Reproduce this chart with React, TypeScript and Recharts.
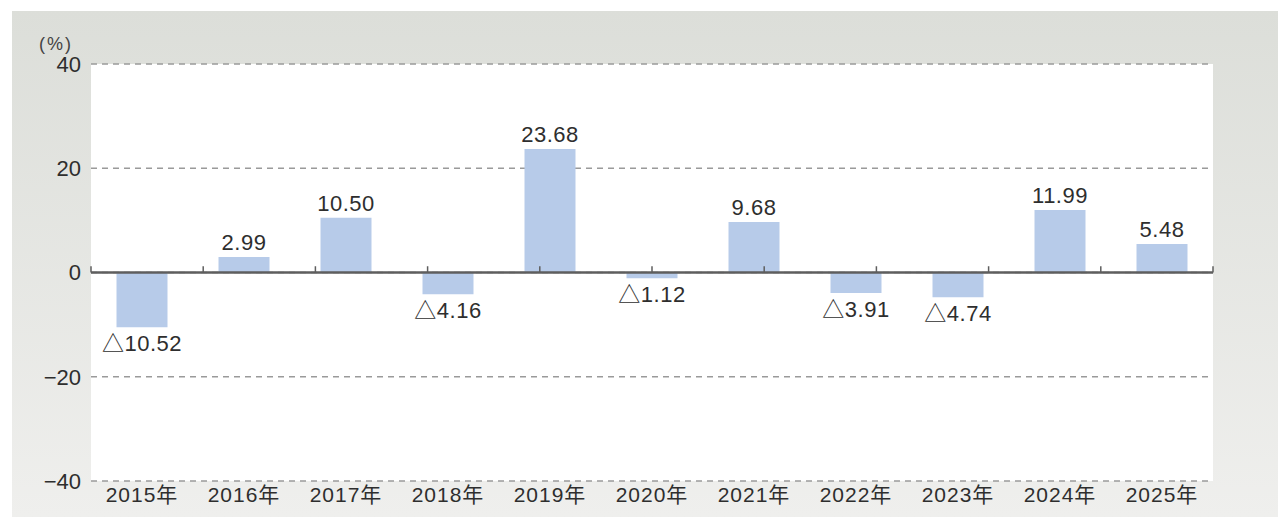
import { BarChart, Bar, XAxis, YAxis, CartesianGrid, ReferenceLine, LabelList } from "recharts";

const years = ["2015年", "2016年", "2017年", "2018年", "2019年", "2020年", "2021年", "2022年", "2023年", "2024年", "2025年"];
const growth = [-10.52, 2.99, 10.5, -4.16, 23.68, -1.12, 9.68, -3.91, -4.74, 11.99, 5.48];
const yTicks = [-40, -20, 0, 20, 40];
// category boundaries (index on a hidden numeric axis) for the small ticks on the zero line
const boundaries = [0, 1, 2, 3, 4, 5, 6, 7, 8, 9, 10, 11];

const data = years.map((year, i) => ({ year, value: growth[i] }));

const FONT = '"Liberation Sans", "Noto Sans CJK JP", sans-serif';

const renderValue = (props: any) => {
  const x = Number(props.x);
  const y = Number(props.y);
  const width = Number(props.width);
  const height = Number(props.height);
  const value = Number(props.value);
  const top = Math.min(y, y + height);
  const bottom = Math.max(y, y + height);
  const neg = value < 0;
  return (
    <text
      x={x + width / 2}
      y={neg ? bottom + 24 : top - 7}
      textAnchor="middle"
      fontSize={22}
      letterSpacing={0.5}
      fill="#2e2e2e"
      fontFamily={FONT}
    >
      {neg ? "△" + Math.abs(value).toFixed(2) : value.toFixed(2)}
    </text>
  );
};

const fmtY = (v: number) => (v < 0 ? "−" + Math.abs(v) : String(v));

export default function App() {
  return (
    <div style={{ position: "absolute", left: 0, top: 0, width: 1278, height: 517, background: "#fff", fontFamily: FONT }}>
      <div
        style={{
          position: "absolute",
          left: 12,
          top: 11,
          width: 1266,
          height: 506,
          background: "linear-gradient(#dcded9, #efefed)",
        }}
      />
      <div style={{ position: "absolute", left: 39, top: 34, fontSize: 18, letterSpacing: 2, color: "#444" }}>(%)</div>
      <div style={{ position: "absolute", left: 0, top: 0 }}>
        <BarChart
          width={1278}
          height={517}
          data={data}
          margin={{ top: 64, right: 65, bottom: 0, left: 0 }}
          barCategoryGap="25%"
        >
          <CartesianGrid
            xAxisId="cat"
            vertical={false}
            fill="#fff"
            fillOpacity={1}
            stroke="#9a9a9a"
            strokeWidth={1.5}
            strokeDasharray="6 5"
          />
          <XAxis xAxisId="b" type="number" domain={[0, 11]} orientation="top" height={0} hide />
          <XAxis
            xAxisId="cat"
            dataKey="year"
            height={36}
            tickLine={false}
            axisLine={false}
            tickSize={0}
            tickMargin={6}
            interval={0}
            tick={{ fill: "#2e2e2e", fontSize: 21, letterSpacing: 1, fontFamily: FONT }}
          />
          <YAxis
            domain={[-40, 40]}
            ticks={yTicks}
            width={91}
            tickLine={false}
            axisLine={false}
            tickSize={0}
            tickMargin={10}
            tickFormatter={fmtY}
            tick={{ fill: "#2e2e2e", fontSize: 22, fontFamily: FONT }}
          />
          <Bar xAxisId="cat" dataKey="value" fill="#b7cbe9" isAnimationActive={false}>
            <LabelList dataKey="value" content={renderValue} />
          </Bar>
          <ReferenceLine xAxisId="cat" y={0} stroke="#5e5e5e" strokeWidth={2.5} />
          {boundaries.map((b) => (
            <ReferenceLine
              key={b}
              xAxisId="b"
              segment={[
                { x: b, y: 0 },
                { x: b, y: 1.2 },
              ]}
              stroke="#5e5e5e"
              strokeWidth={1.5}
            />
          ))}
        </BarChart>
      </div>
    </div>
  );
}
